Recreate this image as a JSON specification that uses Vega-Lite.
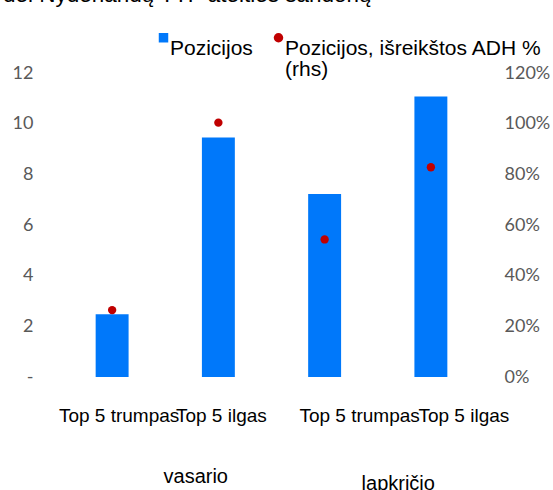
{
  "$schema": "https://vega.github.io/schema/vega-lite/v6.json",
  "width": 425,
  "height": 304,
  "autosize": {"type": "none"},
  "padding": {"left": 59, "top": 73, "right": 69, "bottom": 113},
  "background": "white",
  "title": {
    "text": "dėl Nyderlandų TTF ateities sandorių",
    "anchor": "start",
    "frame": "group",
    "font": "Liberation Sans",
    "fontSize": 22.5,
    "fontWeight": "normal",
    "color": "#000000",
    "baseline": "alphabetic",
    "offset": 0,
    "dx": -56,
    "dy": -3
  },
  "data": {
    "values": [
      {"cat": "v1", "label": "Top 5 trumpas", "period": "vasario", "pos": 2.48, "pct": 0.264},
      {"cat": "v2", "label": "Top 5 ilgas", "period": "vasario", "pos": 9.45, "pct": 1.004},
      {"cat": "l1", "label": "Top 5 trumpas", "period": "lapkričio", "pos": 7.22, "pct": 0.543},
      {"cat": "l2", "label": "Top 5 ilgas", "period": "lapkričio", "pos": 11.07, "pct": 0.828}
    ]
  },
  "layer": [
    {
      "mark": {"type": "bar", "color": "#0078FA"},
      "encoding": {
        "x": {
          "field": "cat",
          "type": "nominal",
          "sort": ["v1", "v2", "l1", "l2"],
          "scale": {"paddingInner": 0.69, "paddingOuter": 0.345},
          "axis": {
            "title": null,
            "labelExpr": "datum.value == 'v1' || datum.value == 'l1' ? 'Top 5 trumpas' : 'Top 5 ilgas'",
            "ticks": false,
            "tickSize": 0,
            "domain": false,
            "grid": false,
            "labelAngle": 0,
            "labelOverlap": false,
            "labelBound": false,
            "labelFont": "Liberation Sans",
            "labelFontSize": 19,
            "labelColor": "#000000",
            "labelBaseline": "alphabetic",
            "labelPadding": 44,
            "labelOffset": {"condition": [{"test": "datum.value == 'l1'", "value": 35}, {"test": "datum.value == 'l2'", "value": 33}, {"test": "datum.value == 'v1'", "value": 7}], "value": 3}
          }
        },
        "y": {
          "field": "pos",
          "type": "quantitative",
          "scale": {"domain": [0, 12], "nice": false},
          "axis": {
            "title": null,
            "values": [0, 2, 4, 6, 8, 10, 12],
            "labelExpr": "datum.value == 0 ? '-   ' : datum.label",
            "ticks": false,
            "tickSize": 0,
            "domain": false,
            "grid": false,
            "labelFont": "Lato",
            "labelFontSize": 18,
            "labelColor": "#595959",
            "labelPadding": 26
          }
        },
        "color": {
          "datum": "Pozicijos",
          "type": "nominal",
          "scale": {"domain": ["Pozicijos", "Pozicijos, išreikštos ADH % (rhs)"], "range": ["#0078FA", "#C00000"]},
          "legend": {
            "title": null,
            "orient": "none",
            "legendX": 94,
            "legendY": -46,
            "direction": "horizontal",
            "columnPadding": 15,
            "padding": 0,
            "labelFont": "Liberation Sans",
            "labelFontSize": 21,
            "labelColor": "#000000",
            "labelLimit": 400,
            "labelOffset": -4,
            "labelBaseline": "top",
            "symbolSize": 90,
            "symbolStrokeWidth": 0,
            "labelExpr": "datum.label == 'Pozicijos' ? ['Pozicijos', ' '] : ['Pozicijos, išreikštos ADH %', '(rhs)']"
          }
        }
      }
    },
    {
      "mark": {"type": "point", "filled": true, "size": 70, "opacity": 1},
      "encoding": {
        "x": {
          "field": "cat",
          "type": "nominal",
          "sort": ["v1", "v2", "l1", "l2"],
          "scale": {"paddingInner": 0.69, "paddingOuter": 0.345},
          "axis": null
        },
        "y": {
          "field": "pct",
          "type": "quantitative",
          "scale": {"domain": [0, 1.2], "nice": false},
          "axis": {
            "title": null,
            "orient": "right",
            "values": [0, 0.2, 0.4, 0.6, 0.8, 1.0, 1.2],
            "format": ".0%",
            "ticks": false,
            "tickSize": 0,
            "domain": false,
            "grid": false,
            "labelAlign": "left",
            "labelFont": "Lato",
            "labelFontSize": 18,
            "labelColor": "#595959",
            "labelPadding": 20
          }
        },
        "color": {"datum": "Pozicijos, išreikštos ADH % (rhs)", "type": "nominal"},
        "shape": {
          "datum": "Pozicijos, išreikštos ADH % (rhs)",
          "type": "nominal",
          "scale": {"domain": ["Pozicijos", "Pozicijos, išreikštos ADH % (rhs)"], "range": ["square", "circle"]},
          "legend": {"title": null}
        }
      }
    },
    {
      "mark": {"type": "point", "opacity": 0},
      "encoding": {
        "x": {
          "field": "period",
          "type": "nominal",
          "sort": ["vasario", "lapkričio"],
          "scale": {"paddingInner": 0, "paddingOuter": 0},
          "axis": {
            "title": null,
            "orient": "bottom",
            "ticks": false,
            "tickSize": 0,
            "domain": false,
            "grid": false,
            "labelAngle": 0,
            "labelFont": "Liberation Sans",
            "labelFontSize": 20,
            "labelColor": "#000000",
            "labelBaseline": "alphabetic",
            "labelPadding": {"condition": {"test": "datum.value == 'lapkričio'", "value": 112}, "value": 105},
            "labelOffset": {"condition": {"test": "datum.value == 'lapkričio'", "value": 20}, "value": 30}
          }
        }
      }
    }
  ],
  "resolve": {"scale": {"x": "independent", "y": "independent"}},
  "config": {"view": {"stroke": null}, "style": {"guide-label": {"lineHeight": 21}}}
}
